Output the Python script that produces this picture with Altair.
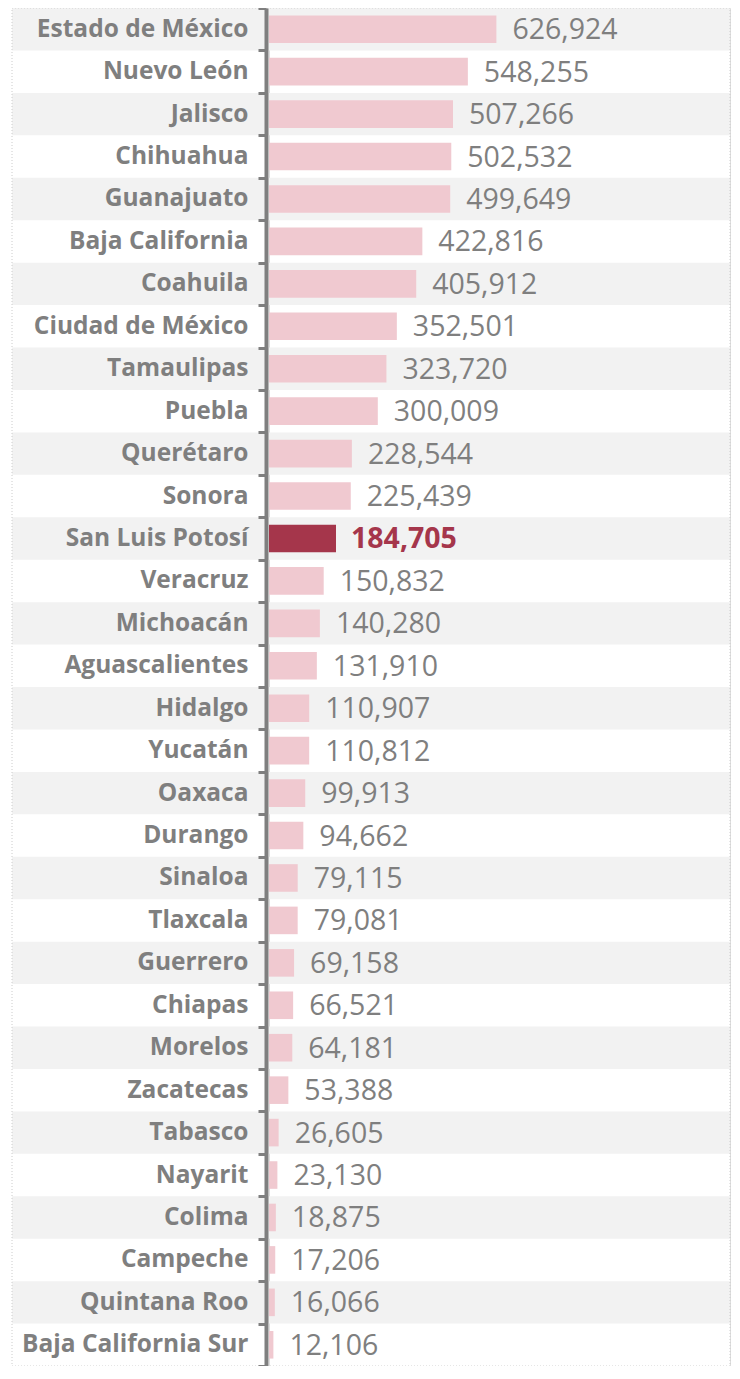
import altair as alt
import pandas as pd

states = ["Estado de México", "Nuevo León", "Jalisco", "Chihuahua", "Guanajuato",
          "Baja California", "Coahuila", "Ciudad de México", "Tamaulipas", "Puebla",
          "Querétaro", "Sonora", "San Luis Potosí", "Veracruz", "Michoacán",
          "Aguascalientes", "Hidalgo", "Yucatán", "Oaxaca", "Durango", "Sinaloa",
          "Tlaxcala", "Guerrero", "Chiapas", "Morelos", "Zacatecas", "Tabasco",
          "Nayarit", "Colima", "Campeche", "Quintana Roo", "Baja California Sur"]
values = [626924, 548255, 507266, 502532, 499649, 422816, 405912, 352501, 323720,
          300009, 228544, 225439, 184705, 150832, 140280, 131910, 110907, 110812,
          99913, 94662, 79115, 79081, 69158, 66521, 64181, 53388, 26605, 23130,
          18875, 17206, 16066, 12106]
highlight = "San Luis Potosí"

df = pd.DataFrame({"state": states, "value": values})
df["row"] = range(len(df))
df["hl"] = df["state"] == highlight
df["stripe"] = df["row"] % 2 == 0

LEFT = 261
W = 461
H = 1358

y = alt.Y("state:N", sort=states, title=None,
          scale=alt.Scale(paddingInner=0, paddingOuter=0),
          axis=alt.Axis(labelFont="Open Sans", labelFontWeight="bold", labelFontSize=24.5,
                        labelColor="#7f7f7f", labelPadding=10, labelLimit=0,
                        domainColor="#7f7f7f", domainWidth=4,
                        tickColor="#7f7f7f", tickWidth=3, tickSize=8,
                        tickBand="extent", offset=3, grid=False))
x = alt.X("value:Q", title=None, axis=None,
          scale=alt.Scale(domain=[0, 1271000], nice=False))

base = alt.Chart(df)

bg = base.transform_filter("datum.stripe").mark_rect(color="#f2f2f2").encode(
    y=y, x=alt.value(-LEFT + 4), x2=alt.value(W))

bars = base.mark_bar(height={"band": 0.65}).encode(
    y=y, x=x,
    color=alt.condition("datum.hl", alt.value("#a5364b"), alt.value("#f0c9d0")))

txt = base.transform_filter("!datum.hl").mark_text(
    align="left", baseline="middle", dx=16, dy=1, font="Open Sans", fontSize=28.5,
    color="#7f7f7f").encode(y=y, x=x, text=alt.Text("value:Q", format=",d"))

txt_hl = base.transform_filter("datum.hl").mark_text(
    align="left", baseline="middle", dx=15, dy=1, font="Open Sans", fontSize=28.5,
    fontWeight="bold", color="#a5364b").encode(
    y=y, x=x, text=alt.Text("value:Q", format=",d"))

frame = base.transform_filter("datum.row == 0").mark_rect(
    fill=None, stroke="#cccccc", strokeDash=[1, 2], strokeWidth=1).encode(
    x=alt.value(-LEFT + 4), x2=alt.value(W), y=alt.value(0), y2=alt.value(H))

chart = alt.layer(bg, frame, bars, txt, txt_hl).properties(
    width=W, height=H, autosize=alt.AutoSizeParams(type="none"),
    padding={"left": LEFT, "top": 0, "right": 2, "bottom": 0}
).configure_view(stroke=None).configure(background="white")

chart.save("out.html", embed_options={"renderer": "svg", "actions": False})
